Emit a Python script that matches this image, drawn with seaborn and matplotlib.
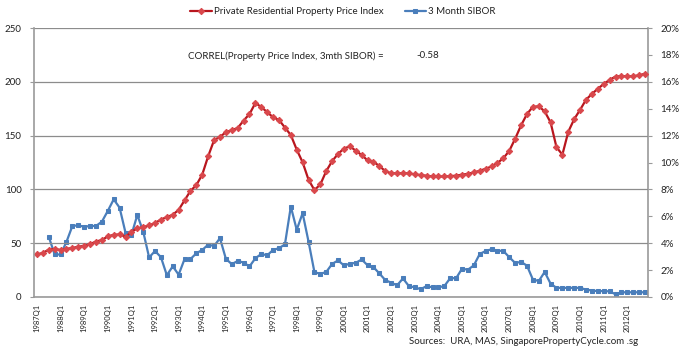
import numpy as np
import pandas as pd
import matplotlib
matplotlib.use("Agg")
import matplotlib.pyplot as plt
import matplotlib.ticker as mticker
import seaborn as sns

# ---------------- data ----------------
years = list(range(1987, 2013))
quarters = [f"{y}Q{q}" for y in years for q in range(1, 5)]  # 1987Q1 .. 2012Q4

ppi = [39.5, 41, 44, 44.7, 43.7, 44.8, 45.5, 46.8, 47.5, 49.2,
       51.5, 53, 56.3, 57.8, 58.2, 56, 60.5, 63.8, 65, 66.5,
       68.8, 72, 74.3, 76.4, 81, 89.8, 98.6, 104, 113.8, 130.8,
       145.7, 149, 153, 155.2, 157, 164, 170, 180.3, 176.5, 171.8,
       167, 164.5, 157.5, 150.5, 137, 125.2, 109, 99.4, 104.6, 117,
       126.3, 133, 138, 140, 136, 131.9, 127, 125.7, 121.7, 117,
       115, 114.9, 115, 114.9, 113.9, 113.3, 112.7, 112, 112, 112,
       112.3, 112.8, 113.7, 114.5, 115.8, 117.3, 119.2, 121.3, 124.6, 129,
       135.8, 147.1, 159.5, 170, 176.8, 177.2, 172.5, 162.3, 139.2, 132.3,
       153.6, 165.3, 174, 183.3, 188.8, 193.5, 198, 201.8, 204.9, 205.3,
       205, 205.2, 206.1, 207.5]

sibor = [np.nan, np.nan, 4.48, 3.16, 3.16, 4.10, 5.28, 5.33, 5.22, 5.28,
         5.28, 5.60, 6.40, 7.26, 6.64, 4.78, 4.61, 6.10, 4.86, 2.94,
         3.42, 2.96, 1.62, 2.28, 1.66, 2.82, 2.82, 3.25, 3.50, 3.89,
         3.79, 4.37, 2.84, 2.44, 2.68, 2.56, 2.27, 2.88, 3.20, 3.10,
         3.50, 3.63, 3.91, 6.72, 5.00, 6.23, 4.12, 1.85, 1.72, 1.86,
         2.46, 2.72, 2.35, 2.47, 2.54, 2.79, 2.36, 2.22, 1.75, 1.26,
         1.06, 0.87, 1.38, 0.81, 0.72, 0.58, 0.81, 0.72, 0.72, 0.81,
         1.40, 1.40, 2.10, 2.03, 2.35, 3.20, 3.42, 3.55, 3.45, 3.42,
         2.96, 2.53, 2.61, 2.33, 1.30, 1.19, 1.86, 0.99, 0.68, 0.68,
         0.68, 0.68, 0.68, 0.55, 0.48, 0.44, 0.44, 0.42, 0.20, 0.35,
         0.35, 0.35, 0.35, 0.35]

left_ticks = [0, 50, 100, 150, 200, 250]
right_ticks = [0, 2, 4, 6, 8, 10, 12, 14, 16, 18, 20]

df = pd.DataFrame({"pos": np.arange(len(quarters)), "quarter": quarters,
                   "ppi": ppi, "sibor": sibor})

# ---------------- style ----------------
sns.set_style("white")
plt.rcParams["font.family"] = ["Lato", "DejaVu Sans"]
txt = "#222222"
gridc = "#8c8c8c"
red_line = "#B8161E"
red_mark = "#D9484C"
blue = "#4A7EBB"

fig = plt.figure(figsize=(6.86, 3.52), dpi=100)
ax = fig.add_axes([34 / 686, 55 / 352, (648 - 34) / 686, (297 - 28) / 352])
ax2 = ax.twinx()

sns.lineplot(data=df, x="pos", y="ppi", ax=ax, color=red_line, linewidth=1.6,
             marker="D", markersize=3.2, markerfacecolor=red_mark,
             markeredgecolor=red_mark, label="Private Residential Property Price Index",
             legend=False)
sns.lineplot(data=df.dropna(), x="pos", y="sibor", ax=ax2, color=blue, linewidth=1.6,
             marker="s", markersize=3.2, markerfacecolor=blue, markeredgecolor=blue,
             label="3 Month SIBOR", legend=False)

n = len(quarters)
ax.set_xlim(-0.5, n - 0.5)
ax.set_ylim(0, 250)
ax2.set_ylim(0, 20)

ax.set_yticks(left_ticks)
ax.set_yticklabels([str(v) for v in left_ticks])
ax2.set_yticks(right_ticks)
ax2.set_yticklabels([f"{v}%" for v in right_ticks])

ax.set_xticks(np.arange(0, n, 4))
ax.set_xticklabels(quarters[::4], rotation=90)
ax.xaxis.set_minor_locator(mticker.FixedLocator(np.arange(-0.5, n, 1)))

ax.set_xlabel("")
ax.set_ylabel("")
ax2.set_xlabel("")
ax2.set_ylabel("")

ax.grid(axis="y", color=gridc, linewidth=0.9)
ax.grid(axis="x", visible=False)
ax2.grid(False)
ax.set_zorder(ax2.get_zorder() + 1)
ax.patch.set_visible(False)

for a in (ax, ax2):
    for s in ("top",):
        a.spines[s].set_visible(False)
ax.spines["right"].set_visible(False)
ax2.spines["left"].set_visible(False)
ax2.spines["bottom"].set_visible(False)
ax.spines["left"].set_color("#9a9a9a")
ax.spines["bottom"].set_color("#9a9a9a")
ax2.spines["right"].set_color("#9a9a9a")
ax.spines["left"].set_linewidth(1.2)
ax.spines["bottom"].set_linewidth(1.2)
ax2.spines["right"].set_linewidth(1.2)

ax.tick_params(axis="y", which="major", length=3, color="#9a9a9a", labelsize=7,
               labelcolor=txt, pad=6)
ax2.tick_params(axis="y", which="major", length=3, color="#9a9a9a", labelsize=7,
                labelcolor=txt, pad=6)
ax.tick_params(axis="x", which="major", length=3, color="#9a9a9a", labelsize=5.5,
               labelcolor=txt, pad=2)
ax.tick_params(axis="x", which="minor", length=3, color="#9a9a9a")

# legend
h1, l1 = ax.get_legend_handles_labels()
h2, l2 = ax2.get_legend_handles_labels()
fig.legend(h1 + h2, l1 + l2, loc="center", bbox_to_anchor=(343 / 686, 1 - 12 / 352),
           ncol=2, frameon=False, fontsize=7, handlelength=2.2, handletextpad=0.2,
           columnspacing=2.2, labelcolor=txt)

fig.text(188 / 686, 1 - 56 / 352, "CORREL(Property Price Index, 3mth SIBOR) =",
         fontsize=7, color=txt, va="center", ha="left")
fig.text(416 / 686, 1 - 56 / 352, "-0.58", fontsize=7, color=txt, va="center", ha="left")
fig.text(638 / 686, 1 - 342 / 352, "Sources:  URA, MAS, SingaporePropertyCycle.com .sg",
         fontsize=7, color=txt, va="center", ha="right")

fig.savefig("out.png", dpi=100, facecolor="white")
